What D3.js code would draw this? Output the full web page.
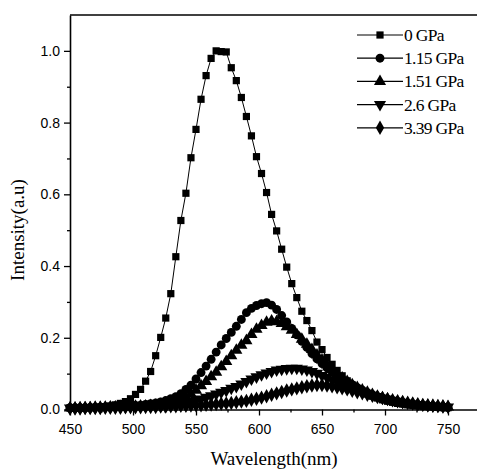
<!DOCTYPE html>
<html>
<head>
<meta charset="utf-8">
<script src="https://cdn.jsdelivr.net/npm/d3@7"></script>
<style>
  body { margin: 0; background: #fff; }
  svg { display: block; }
</style>
</head>
<body>
<div id="chart"></div>
<script>
// wavelength grid (nm) shared by every series
const wavelength = [450,454,458,462,466,470,474,478,482,486,490,494,498,502,506,510,514,518,522,526,
  530,534,538,542,546,550,554,558,562,566,570,574,578,582,586,590,594,598,602,606,
  610,614,618,622,626,630,634,638,642,646,650,654,658,662,666,670,674,678,682,686,
  690,694,698,702,706,710,714,718,722,726,730,734,738,742,746,750];

const gpa0 = [0.004,0.004,0.004,0.005,0.005,0.006,0.007,0.008,0.010,0.013,0.017,0.022,0.030,0.042,0.056,0.079,0.106,0.150,0.201,0.255,
  0.323,0.426,0.527,0.603,0.702,0.781,0.865,0.931,0.979,1.000,0.998,0.997,0.953,0.917,0.870,0.817,0.763,0.705,0.658,0.605,
  0.544,0.498,0.447,0.397,0.351,0.312,0.274,0.248,0.220,0.188,0.167,0.145,0.126,0.109,0.094,0.080,0.068,0.058,0.050,0.043,
  0.037,0.032,0.027,0.023,0.020,0.017,0.015,0.013,0.011,0.010,0.009,0.008,0.007,0.006,0.005,0.005];

const gpa115 = [0.005,0.005,0.005,0.005,0.006,0.006,0.006,0.007,0.007,0.008,0.008,0.009,0.010,0.011,0.012,0.014,0.016,0.018,0.021,0.025,
  0.030,0.036,0.044,0.056,0.068,0.085,0.103,0.121,0.140,0.160,0.180,0.198,0.215,0.232,0.251,0.270,0.282,0.290,0.295,0.298,
  0.291,0.279,0.262,0.244,0.226,0.208,0.190,0.173,0.156,0.141,0.128,0.116,0.105,0.095,0.085,0.077,0.069,0.061,0.054,0.047,
  0.041,0.036,0.031,0.027,0.024,0.021,0.018,0.016,0.014,0.012,0.011,0.010,0.009,0.008,0.007,0.006];

const gpa151 = [0.004,0.004,0.005,0.005,0.005,0.006,0.006,0.006,0.007,0.007,0.008,0.008,0.009,0.009,0.010,0.010,0.011,0.012,0.014,0.016,
  0.019,0.022,0.027,0.035,0.043,0.054,0.066,0.078,0.091,0.104,0.119,0.134,0.150,0.165,0.179,0.192,0.209,0.224,0.234,0.243,
  0.247,0.245,0.240,0.231,0.221,0.209,0.196,0.182,0.167,0.152,0.138,0.124,0.111,0.099,0.088,0.078,0.069,0.061,0.054,0.048,
  0.042,0.037,0.033,0.029,0.025,0.022,0.020,0.017,0.015,0.013,0.012,0.011,0.010,0.009,0.008,0.007];

const gpa26 = [0.004,0.004,0.004,0.004,0.005,0.005,0.005,0.006,0.006,0.006,0.007,0.007,0.008,0.008,0.009,0.009,0.010,0.011,0.011,0.012,
  0.013,0.015,0.017,0.020,0.022,0.025,0.029,0.034,0.038,0.043,0.048,0.053,0.059,0.064,0.071,0.078,0.085,0.091,0.097,0.102,
  0.106,0.110,0.112,0.114,0.115,0.115,0.113,0.110,0.106,0.101,0.095,0.089,0.083,0.077,0.071,0.065,0.059,0.054,0.049,0.044,
  0.040,0.036,0.032,0.029,0.026,0.023,0.020,0.018,0.016,0.014,0.013,0.011,0.010,0.009,0.008,0.007];

const gpa339 = [0.003,0.003,0.003,0.004,0.004,0.004,0.004,0.005,0.005,0.005,0.005,0.006,0.006,0.006,0.006,0.007,0.007,0.007,0.008,0.008,
  0.009,0.009,0.010,0.010,0.011,0.012,0.012,0.013,0.014,0.015,0.016,0.017,0.018,0.020,0.022,0.024,0.027,0.030,0.033,0.037,
  0.041,0.045,0.049,0.053,0.056,0.059,0.062,0.065,0.067,0.068,0.068,0.067,0.065,0.062,0.059,0.056,0.052,0.048,0.045,0.041,
  0.038,0.035,0.032,0.029,0.026,0.023,0.021,0.019,0.017,0.015,0.013,0.012,0.011,0.010,0.009,0.008];

const seriesNames = ["0 GPa", "1.15 GPa", "1.51 GPa", "2.6 GPa", "3.39 GPa"];
const seriesValues = [gpa0, gpa115, gpa151, gpa26, gpa339];

const xTicks = [450, 500, 550, 600, 650, 700, 750];
const yTicks = [0.0, 0.2, 0.4, 0.6, 0.8, 1.0];

let chart = { width: 477, height: 471 };

const svg = d3.select("#chart").append("svg")
    .attr("width", chart.width)
    .attr("height", chart.height);

const x = d3.scaleLinear().domain([450, 775]).range([70, 479.5]);
const y = d3.scaleLinear().domain([0, 1.1]).range([409.5, 15]);

// marker shapes per series
const symbols = [
    d3.symbol().type(d3.symbolSquare).size(52),
    d3.symbol().type(d3.symbolCircle).size(62),
    d3.symbol().type(d3.symbolTriangle).size(64),
    d3.symbol().type(d3.symbolTriangle).size(64),
    d3.symbol().type(d3.symbolDiamond).size(60)
];
const rotations = [0, 0, 0, 180, 0];

const line = d3.line()
    .x(d => x(d[0]))
    .y(d => y(d[1]));

const plot = svg.append("g");

seriesValues.forEach((vals, i) => {
    const pts = wavelength.map((w, j) => [w, vals[j]]);
    plot.append("path")
        .datum(pts)
        .attr("fill", "none")
        .attr("stroke", "#000")
        .attr("stroke-width", 1)
        .attr("d", line);
    plot.append("g").selectAll("path")
        .data(pts)
        .enter()
        .append("path")
        .attr("d", symbols[i])
        .attr("transform", d => "translate(" + x(d[0]) + "," + y(d[1]) + ") rotate(" + rotations[i] + ")")
        .attr("fill", "#000");
});

// axes
const xAxis = svg.append("g")
    .attr("transform", "translate(0," + y(0) + ")")
    .call(d3.axisBottom(x).tickValues(xTicks).tickSize(6).tickPadding(9).tickSizeOuter(0));
const xMinor = svg.append("g")
    .attr("transform", "translate(0," + y(0) + ")")
    .call(d3.axisBottom(x).tickValues([475, 525, 575, 625, 675, 725, 775]).tickSize(3).tickFormat(""));
xMinor.select(".domain").remove();

const yAxis = svg.append("g")
    .attr("transform", "translate(" + x(450) + ",0)")
    .call(d3.axisLeft(y).tickValues(yTicks).tickFormat(d3.format(".1f")).tickSize(6).tickPadding(4).tickSizeOuter(0));
const yMinor = svg.append("g")
    .attr("transform", "translate(" + x(450) + ",0)")
    .call(d3.axisLeft(y).tickValues([0.1, 0.3, 0.5, 0.7, 0.9]).tickSize(3).tickFormat(""));
yMinor.select(".domain").remove();

svg.selectAll(".domain").attr("stroke", "#000").attr("stroke-width", 1.6);
svg.selectAll(".tick line").attr("stroke", "#000").attr("stroke-width", 1.3);
svg.selectAll(".tick text")
    .style("font-family", "'Liberation Sans', Arial, sans-serif")
    .style("font-size", "14px")
    .attr("fill", "#000");

// top frame line
svg.append("line")
    .attr("x1", x(450)).attr("x2", chart.width)
    .attr("y1", y(1.1)).attr("y2", y(1.1))
    .attr("stroke", "#000").attr("stroke-width", 1.6);

// axis titles
svg.append("text")
    .attr("x", 274).attr("y", 465)
    .attr("text-anchor", "middle")
    .style("font-family", "'Liberation Serif', 'Times New Roman', serif")
    .style("font-size", "19px")
    .text("Wavelength(nm)");

svg.append("text")
    .attr("transform", "translate(24,230) rotate(-90)")
    .attr("text-anchor", "middle")
    .style("font-family", "'Liberation Serif', 'Times New Roman', serif")
    .style("font-size", "19px")
    .text("Intensity(a.u)");

// legend
const legend = svg.append("g").attr("transform", "translate(357,35)");
seriesNames.forEach((name, i) => {
    const row = legend.append("g").attr("transform", "translate(0," + (i * 23.2) + ")");
    row.append("line")
        .attr("x1", 0).attr("x2", 46)
        .attr("y1", 0).attr("y2", 0)
        .attr("stroke", "#000").attr("stroke-width", 1.2);
    row.append("path")
        .attr("d", symbols[i])
        .attr("transform", "translate(23,0) rotate(" + rotations[i] + ")")
        .attr("fill", "#000");
    row.append("text")
        .attr("x", 47).attr("y", 6)
        .style("font-family", "'Liberation Serif', 'Times New Roman', serif")
        .style("font-size", "17.5px")
        .style("letter-spacing", "-0.7px")
        .text(name);
});
</script>
</body>
</html>
